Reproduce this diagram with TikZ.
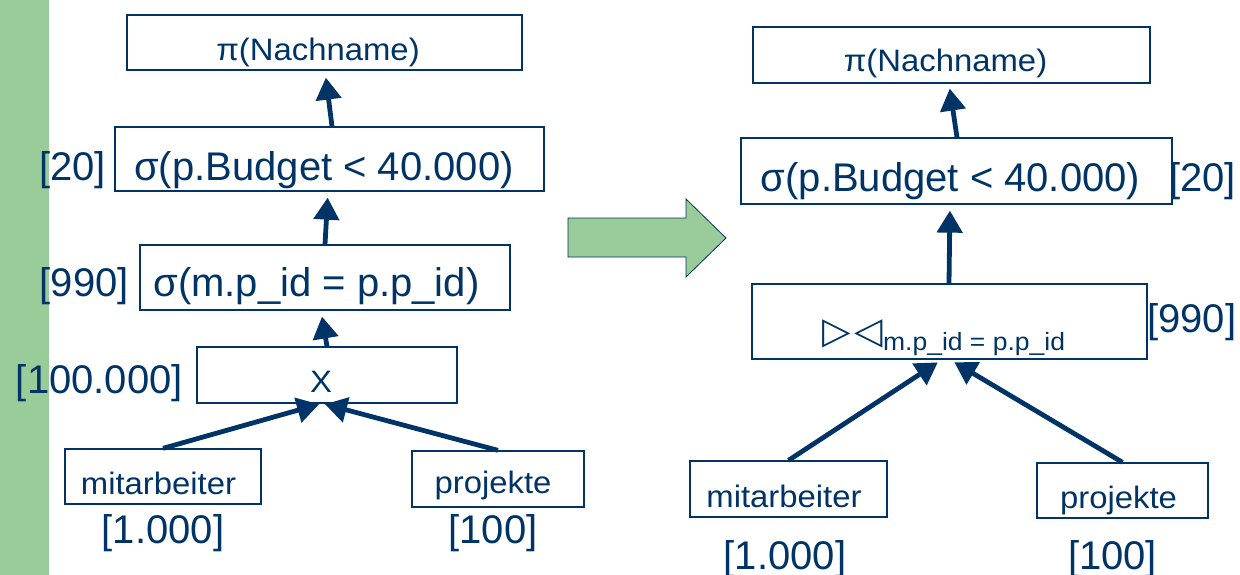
\documentclass[tikz,border=0pt]{standalone}
\usepackage{fontspec}
\setmainfont{Liberation Sans}
\newfontfamily\smallfam[FakeStretch=1.06]{Liberation Sans}
\newfontfamily\symfam{DejaVu Sans}
\usetikzlibrary{arrows.meta}
\definecolor{navy}{RGB}{0,51,102}
\definecolor{slidegreen}{RGB}{153,204,153}
\begin{document}
\begin{tikzpicture}[x=1pt,y=-1pt,
  box/.style={draw=navy, line width=1.3pt, rectangle, inner sep=0pt},
  big/.style={text=navy, inner sep=0pt, font=\fontsize{40}{48}\selectfont},
  sml/.style={text=navy, inner sep=0pt, font=\smallfam\fontsize{31}{36}\selectfont},
  arr/.style={draw=navy, line width=4.8pt, -{Triangle[width=25pt,length=22pt]}}
]
\useasboundingbox (0,0) rectangle (1240,575);
% green side bar
\fill[slidegreen] (0,0) rectangle (49,575);

% ---------- left tree ----------
\node[box, minimum width=395pt, minimum height=55pt] (lpi)   at (324.5,42.5) {};
\node[box, minimum width=429pt, minimum height=64pt] (lbud)  at (329.5,159) {};
\node[box, minimum width=370pt, minimum height=65pt] (lsel)  at (325,277.5) {};
\node[box, minimum width=260pt, minimum height=56pt] (lx)    at (327,375) {};
\node[box, minimum width=196pt, minimum height=55pt] (lmit)  at (163,476.5) {};
\node[box, minimum width=172pt, minimum height=56pt] (lproj) at (498,479) {};

\node[sml, anchor=base] (lpit)   at (318,61)    {π(Nachname)};
\node[big, anchor=base] (lbudt)  at (324,180)   {σ(p.Budget < 40.000)};
\node[big, anchor=base] (lselt)  at (316.5,296) {σ(m.p\_id = p.p\_id)};
\node[sml, anchor=base] (lxt)    at (321,392)   {X};
\node[sml, anchor=base] (lmitt)  at (158.5,494) {mitarbeiter};
\node[sml, anchor=base] (lprojt) at (493,493)   {projekte};

\node[big, anchor=base east] (l20)   at (106,180) {[20]};
\node[big, anchor=base east] (l990)  at (129,296) {[990]};
\node[big, anchor=base east] (l100k) at (183,393) {[100.000]};
\node[big, anchor=base] (l1000) at (163,543) {[1.000]};
\node[big, anchor=base] (l100)  at (493,543) {[100]};

\draw[arr, shorten >=7pt] ([xshift=2.5pt]lbud.north) -- ([xshift=0.5pt]lpi.south);
\draw[arr, shorten >=6pt] (lsel.north) -- ([xshift=-1.5pt]lbud.south);
\draw[arr, shorten >=6pt] (lx.north) -- ([xshift=-4pt]lsel.south);
\draw[arr, shorten >=2pt] (lmit.north) -- ([xshift=-6pt]lx.south);
\draw[arr, shorten >=2pt] (lproj.north) -- ([xshift=-4pt]lx.south);

% ---------- transformation arrow ----------
\draw[fill=slidegreen, draw=navy, line width=0.8pt]
  (568,218) -- (686,218) -- (686,199) -- (726,238) -- (686,277) -- (686,257) -- (568,257) -- cycle;

% ---------- right tree ----------
\node[box, minimum width=397pt, minimum height=56pt] (rpi)   at (951.5,55) {};
\node[box, minimum width=431pt, minimum height=66pt] (rbud)  at (956.5,171) {};
\node[box, minimum width=395pt, minimum height=75pt] (rjoin) at (949.5,321.5) {};
\node[box, minimum width=197pt, minimum height=56pt] (rmit)  at (788.5,489) {};
\node[box, minimum width=171pt, minimum height=55pt] (rproj) at (1122.5,490.5) {};

\node[sml, anchor=base] (rpit)   at (945.5,72)  {π(Nachname)};
\node[big, anchor=base] (rbudt)  at (950.5,192) {σ(p.Budget < 40.000)};
\node[text=navy, inner sep=0pt, anchor=base west] (rjoint) at (822,343)
  {{\symfam\fontsize{37}{42}\selectfont ▷\hspace{4pt}◁}\raisebox{-7pt}{\smallfam\fontsize{25}{30}\selectfont m.p\_id = p.p\_id}};
\node[sml, anchor=base] (rmitt)  at (784,507)    {mitarbeiter};
\node[sml, anchor=base] (rprojt) at (1118.5,508) {projekte};

\node[big, anchor=base west] (r20)  at (1169,192) {[20]};
\node[big, anchor=base west] (r990) at (1147,332) {[990]};
\node[big, anchor=base] (r1000) at (785,569)    {[1.000]};
\node[big, anchor=base] (r100)  at (1112.5,569) {[100]};

\draw[arr, shorten >=5pt] ([xshift=0.5pt]rbud.north) -- ([xshift=-2.5pt]rpi.south);
\draw[arr, shorten >=6pt] ([xshift=-0.5pt]rjoin.north) -- ([xshift=-6.5pt]rbud.south);
\draw[arr, shorten >=5pt] (rmit.north) -- ([xshift=-7.5pt]rjoin.south);
\draw[arr, shorten >=5pt] (rproj.north) -- ([xshift=0.5pt]rjoin.south);
\end{tikzpicture}
\end{document}
